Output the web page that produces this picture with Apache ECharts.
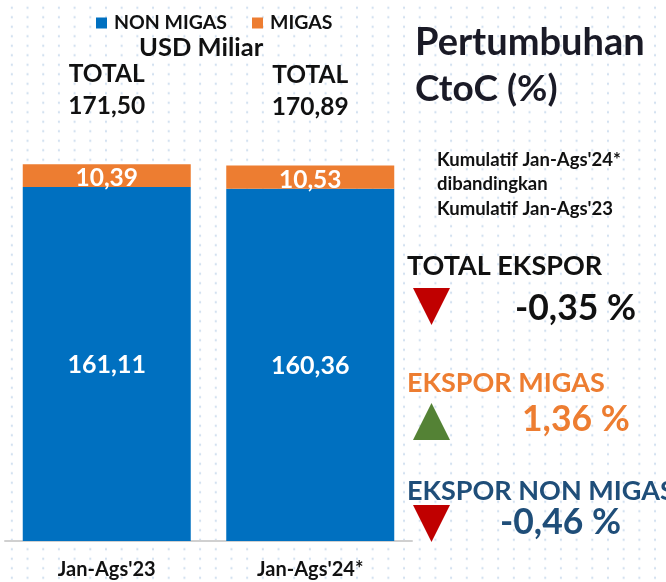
<!DOCTYPE html>
<html>
<head>
<meta charset="utf-8">
<script src="https://cdn.jsdelivr.net/npm/echarts@6/dist/echarts.min.js"></script>
<style>
  html, body { margin: 0; padding: 0; background: #fff; }
  #main {
    width: 666px; height: 582px;
    background-image: radial-gradient(ellipse 1.2px 1.6px, #d3e1f0 90%, transparent 100%);
    background-size: 15.7px 9.5px;
    background-position: 4px 3px;
  }
</style>
</head>
<body>
<div id="main"></div>
<script>
var categories = ["Jan-Ags'23", "Jan-Ags'24*"];
var nonMigas = [161.11, 160.36];
var migas = [10.39, 10.53];
var growthLabels = ['TOTAL EKSPOR', 'EKSPOR MIGAS', 'EKSPOR NON MIGAS'];
var growthValues = [-0.35, 1.36, -0.46];

var totals = nonMigas.map(function (v, i) { return +(v + migas[i]).toFixed(2); });

function fmt(v) {
  return v.toFixed(2).replace('.', ',');
}

var font = 'Lato, "Open Sans", sans-serif';
var chart = echarts.init(document.getElementById('main'), null, { renderer: 'canvas' });

function txt(x, y, text, size, color) {
  return {
    type: 'text',
    style: { x: x, y: y, text: text, verticalAlign: 'middle', font: 'bold ' + size + 'px ' + font, fill: color }
  };
}

// right-hand panel: growth figures
var growthColors = ['#111111', '#ED7D31', '#1F4E79'];
var labelY = [266, 383, 491];
var valueY = [309, 420, 523];
var valueX = [515, 522, 500];
var arrowTop = [288, 403, 505];

var graphics = [
  txt(415, 43, 'Pertumbuhan', 38, '#1a1a26'),
  txt(415, 89, 'CtoC (%)', 37, '#1a1a26'),
  txt(437, 160, "Kumulatif Jan-Ags'24*", 18.5, '#111'),
  txt(437, 184, 'dibandingkan', 18.5, '#111'),
  txt(437, 209, "Kumulatif Jan-Ags'23", 18.5, '#111')
];
growthValues.forEach(function (v, i) {
  graphics.push(txt(407, labelY[i], growthLabels[i], 27, growthColors[i]));
  var t = arrowTop[i];
  var up = v > 0;
  graphics.push({
    type: 'polygon',
    shape: { points: up ? [[413, t + 37], [450, t + 37], [431.5, t]] : [[413, t], [450, t], [431.5, t + 37]] },
    style: { fill: up ? '#548235' : '#C00000' }
  });
  graphics.push(txt(valueX[i], valueY[i], fmt(v) + ' %', 35.5, growthColors[i]));
});

var option = {
  backgroundColor: 'transparent',
  color: ['#0070C0', '#ED7D31'],
  textStyle: { fontFamily: font },
  legend: {
    top: 8,
    left: 91,
    itemWidth: 11,
    itemHeight: 11,
    itemGap: 25,
    icon: 'rect',
    textStyle: { fontSize: 19.5, fontWeight: 'bold', color: '#111', fontFamily: font, padding: [0, 0, 0, 2] },
    data: ['NON MIGAS', 'MIGAS']
  },
  title: {
    text: 'USD Miliar',
    left: 139,
    top: 35,
    padding: 0,
    textStyle: { fontSize: 25.5, fontWeight: 'bold', color: '#111', fontFamily: font }
  },
  grid: { left: 5, right: 254, top: 40, bottom: 41 },
  xAxis: {
    type: 'category',
    data: categories,
    axisLine: { lineStyle: { color: '#d0d0d0', width: 2 } },
    axisTick: { show: false },
    axisLabel: { margin: 19, fontSize: 20, fontWeight: 'bold', color: '#111', fontFamily: font }
  },
  yAxis: {
    type: 'value',
    min: 0,
    max: 228,
    show: false,
    splitLine: { show: false }
  },
  series: [
    {
      name: 'NON MIGAS',
      type: 'bar',
      stack: 'x',
      barWidth: 168,
      data: nonMigas,
      label: {
        show: true,
        position: 'inside',
        offset: [0, 1],
        formatter: function (p) { return fmt(p.value); },
        fontSize: 25, fontWeight: 'bold', color: '#fff', fontFamily: font
      }
    },
    {
      name: 'MIGAS',
      type: 'bar',
      stack: 'x',
      barWidth: 168,
      data: migas,
      label: {
        show: true,
        position: 'inside',
        offset: [0, 3],
        formatter: function (p) { return fmt(p.value); },
        fontSize: 24.5, fontWeight: 'bold', color: '#fff', fontFamily: font
      }
    },
    {
      name: 'TOTAL',
      type: 'scatter',
      symbolSize: 0,
      data: totals,
      silent: true,
      itemStyle: { opacity: 1 },
      label: {
        show: true,
        position: 'top',
        distance: 42,
        opacity: 1,
        formatter: function (p) { return 'TOTAL\n' + fmt(p.value); },
        fontSize: 24.5, fontWeight: 'bold', color: '#111', lineHeight: 32, fontFamily: font
      }
    }
  ],
  graphic: graphics
};

chart.setOption(option);
</script>
</body>
</html>
